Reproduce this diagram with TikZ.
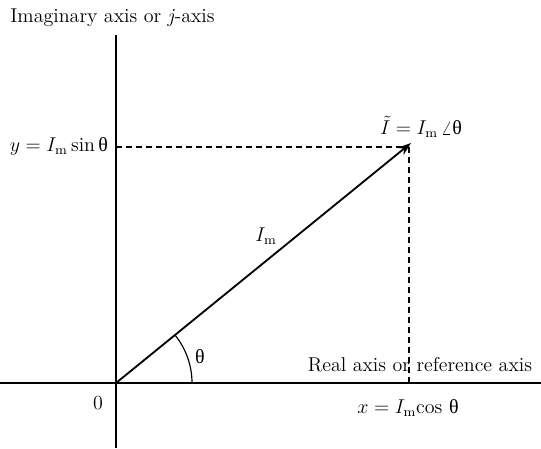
\documentclass[tikz,border=0pt]{standalone}
\usepackage{fontspec}
\newfontfamily\greekfont{Liberation Serif}
\newcommand{\thetaup}{\mbox{\greekfont θ}}
\usetikzlibrary{arrows.meta}
\tikzset{
  axis line/.style={draw, line width=0.8pt},
  phasor/.style={draw, line width=1.1pt, -{Stealth[length=8pt,width=5.5pt]}},
  guide/.style={draw, line width=0.7pt, dash pattern=on 3.6pt off 2.4pt},
  label text/.style={draw=none, inner sep=1pt, font=\fontsize{12}{14}\selectfont}
}

\begin{document}
\begin{tikzpicture}[x=0.6pt, y=0.6pt]
  \useasboundingbox (-116,-65) rectangle (425,383);

  \coordinate (o) at (0,0);
  \coordinate (p) at (295,240);
  \coordinate (q) at (293,236);
  \coordinate (ytop) at (0,348);
  \coordinate (ybot) at (0,-65);
  \coordinate (xleft) at (-116,0);
  \coordinate (xright) at (425,0);
  \coordinate (px) at (293,0);
  \coordinate (py) at (0,236);

  \draw[axis line] (ybot) -- (ytop);
  \draw[axis line] (xleft) -- (xright);

  \draw[guide] (py) -- (q);
  \draw[guide] (q) -- (px);

  \draw[phasor] (o) -- (p);
  \draw[line width=0.7pt] (76,0) arc[start angle=0, end angle=39, radius=76];

  \node[label text] (labimag) at (-3.5,365) {Imaginary axis or \textit{j}-axis};
  \node[label text] (labreal) at (304,18) {Real axis or reference axis};
  \node[label text] (labzero) at (-18,-20) {0};
  \node[label text] (labtheta) at (84,26) {\thetaup};
  \node[label text] (labmag) at (150,147) {$I_{\mathrm{m}}$};
  \node[label text] (labphasor) at (305,256) {$\tilde{I} = I_{\mathrm{m}}\,\angle\thetaup$};
  \node[label text, anchor=east] (laby) at (-6,237) {$y = I_{\mathrm{m}}\sin\thetaup$};
  \node[label text] (labx) at (292,-25) {$x = I_{\mathrm{m}}\!\cos\,\thetaup$};
\end{tikzpicture}
\end{document}
